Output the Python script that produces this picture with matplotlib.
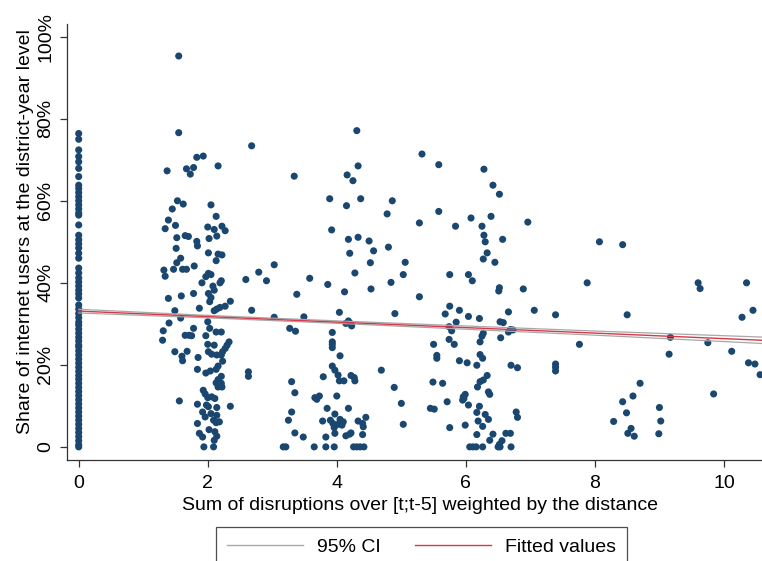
import matplotlib
matplotlib.use('Agg')
import matplotlib.pyplot as plt
from matplotlib.lines import Line2D

# share of internet users (%) for districts with zero disruptions
zero_y = [76.4, 75.0, 72.4, 70.8, 69.5, 67.9, 65.9, 63.8, 63.0, 62.0, 61.0, 60.0, 59.0,
          58.0, 57.0, 56.5, 54.1, 51.6, 50.5, 49.5, 48.5, 47.2, 46.0, 43.6, 42.4, 41.2,
          40.2, 39.2, 38.2, 37.3, 36.3, 34.6, 33.6, 32.5, 31.5, 30.4, 29.7, 28.7, 27.7,
          26.7, 25.8, 24.8, 24.4, 23.4, 22.4, 21.4, 20.4, 19.4, 18.4, 17.4, 16.5, 15.5,
          14.5, 13.5, 12.5, 11.5, 10.5, 9.5, 8.5, 7.5, 6.5, 5.5, 4.5, 3.5, 2.5, 1.5, 0.5, 0.0]

c2_x = [1.55, 1.55, 2.68, 1.83, 1.93, 1.37, 1.67, 1.78, 1.73, 2.16, 3.34, 1.53, 1.62, 1.45,
        2.05, 2.13, 1.39, 1.50, 1.34, 2.00, 2.10, 2.22, 2.27, 2.14, 2.02, 1.52, 1.65, 1.70,
        1.83, 1.84, 1.51, 2.01, 2.16, 2.22, 2.13, 1.58, 1.52, 1.32, 1.34, 1.47, 1.61, 1.67,
        1.79, 2.01, 2.05, 1.97, 1.91, 2.08, 2.21, 2.19, 2.59, 2.79, 2.91, 3.03, 3.38, 2.10,
        2.01, 2.05, 2.03, 1.78, 1.59, 1.39, 2.35, 2.27, 2.19, 2.14, 2.10, 1.87, 1.49, 2.68,
        3.03, 1.58, 1.40, 2.00, 2.03, 1.31, 1.30, 1.78, 1.65, 1.71, 1.75, 1.97, 2.13, 2.21,
        3.27, 3.36, 2.00, 2.10, 2.33, 2.30, 2.27, 2.23, 2.01, 2.06, 2.14, 2.21, 1.49, 1.60,
        1.61, 1.68, 1.85, 2.23, 2.16, 2.13, 1.84, 1.97, 2.04, 2.63, 2.63, 2.21, 2.16, 2.13,
        2.21, 2.16, 2.22, 3.30, 3.35, 1.93, 1.96, 2.00, 2.06, 2.11, 1.56, 1.84, 1.98, 2.01,
        2.14, 2.35, 1.92, 1.96, 2.05, 2.14, 2.09, 2.13, 2.18, 3.30, 3.25, 3.35, 1.84, 2.02,
        1.87, 1.92, 2.11, 2.14, 2.10, 1.94, 2.09, 3.17, 3.21]
c2_y = [95.3, 76.6, 73.4, 70.6, 70.9, 67.3, 67.8, 68.1, 66.5, 68.5, 66.0, 60.0, 59.2, 58.0,
        59.0, 56.2, 55.3, 54.0, 53.2, 53.6, 53.0, 53.8, 52.7, 51.4, 50.8, 51.0, 51.5, 51.3,
        50.1, 49.0, 48.4, 47.3, 47.0, 46.8, 45.4, 46.0, 44.9, 43.1, 41.6, 43.3, 43.3, 43.3,
        44.1, 42.3, 42.0, 41.5, 40.0, 39.2, 40.5, 40.0, 40.8, 42.6, 40.5, 44.4, 37.2, 38.2,
        37.4, 36.4, 35.4, 37.4, 36.8, 36.2, 35.5, 34.3, 34.0, 33.6, 33.2, 33.8, 33.2, 33.3,
        31.6, 31.4, 30.2, 30.5, 28.9, 28.3, 26.0, 28.9, 27.2, 27.2, 27.1, 27.1, 28.0, 28.0,
        28.9, 28.2, 25.0, 24.8, 25.6, 24.8, 24.0, 23.2, 23.2, 22.6, 22.4, 22.4, 23.2, 22.1,
        21.0, 23.3, 21.8, 20.9, 19.7, 18.9, 18.9, 18.0, 18.5, 18.3, 17.2, 17.2, 16.4, 15.6,
        15.5, 14.6, 14.6, 15.9, 13.2, 13.8, 12.9, 12.0, 12.2, 11.8, 11.2, 10.4, 10.2, 9.8,
        9.6, 9.9, 8.5, 7.3, 8.1, 7.7, 6.5, 5.9, 6.1, 8.5, 6.5, 3.4, 5.7, 4.2,
        3.3, 2.4, 3.7, 2.6, 1.6, 0.0, 0.0, 0.0, 0.0]

c4_x = [4.31, 5.32, 5.58, 4.33, 4.16, 4.25, 3.89, 4.15, 4.37, 4.86, 4.78, 5.58, 5.28, 3.92,
        4.18, 4.33, 4.50, 4.20, 4.57, 4.80, 4.52, 5.06, 4.28, 5.03, 3.58, 3.86, 4.12, 4.84,
        4.53, 5.28, 5.75, 5.75, 5.68, 3.49, 4.04, 4.90, 4.18, 4.21, 4.23, 4.14, 5.74, 5.74,
        3.93, 3.93, 3.93, 3.93, 5.50, 5.55, 5.55, 4.05, 3.93, 3.97, 4.02, 4.04, 4.11, 4.22,
        4.27, 4.28, 3.79, 4.69, 5.49, 5.64, 4.89, 4.00, 3.66, 3.73, 3.69, 5.71, 5.00, 3.85,
        3.97, 4.18, 5.45, 5.51, 3.78, 3.90, 3.94, 4.05, 4.10, 4.02, 4.08, 4.45, 4.33, 4.40,
        4.41, 3.96, 5.03, 5.75, 3.48, 3.83, 3.97, 4.14, 4.20, 4.22, 4.40, 3.65, 3.83, 3.96,
        4.26, 4.31, 4.36, 4.42]
c4_y = [77.1, 71.4, 68.8, 68.5, 66.3, 64.9, 60.5, 58.8, 60.5, 60.0, 56.8, 57.4, 54.6, 52.9,
        50.6, 51.1, 50.2, 47.2, 47.8, 48.7, 44.9, 45.0, 42.4, 42.0, 41.1, 39.6, 37.8, 40.1,
        38.5, 36.6, 42.0, 34.3, 32.4, 31.7, 32.8, 32.5, 30.7, 30.1, 29.5, 30.1, 29.3, 26.2,
        27.9, 25.6, 25.0, 24.2, 25.0, 22.3, 21.6, 22.2, 19.7, 18.7, 17.5, 16.1, 16.1, 17.4,
        16.9, 16.1, 17.1, 18.7, 15.8, 15.5, 14.5, 12.4, 12.0, 12.4, 11.6, 11.0, 10.6, 9.4,
        8.0, 9.4, 9.4, 9.2, 6.3, 6.5, 5.7, 6.7, 6.1, 5.5, 5.3, 7.2, 6.3, 5.7,
        4.9, 4.7, 5.5, 4.7, 2.4, 2.4, 3.3, 2.7, 3.1, 3.4, 3.0, 0.0, 0.0, 0.0,
        0.0, 0.0, 0.0, 0.0]

c6_x = [6.28, 6.42, 6.52, 6.39, 6.08, 6.96, 5.84, 6.25, 6.28, 6.30, 6.57, 6.33, 6.27, 6.45,
        6.04, 6.10, 6.52, 6.51, 6.89, 5.90, 5.85, 6.04, 6.21, 5.78, 6.66, 7.06, 7.39, 6.53,
        6.58, 6.69, 6.66, 6.73, 6.27, 6.25, 6.22, 6.54, 5.82, 7.76, 6.22, 6.26, 6.17, 5.90,
        6.02, 6.70, 6.80, 7.39, 7.39, 7.39, 6.33, 6.27, 6.22, 6.18, 6.35, 6.37, 5.99, 5.96,
        5.95, 5.97, 6.04, 6.21, 6.17, 6.30, 6.35, 6.26, 6.78, 6.80, 5.99, 6.19, 6.17, 6.42,
        6.62, 6.69, 6.37, 6.56, 6.52, 6.06, 6.11, 6.16, 6.26, 6.50, 6.53, 6.70]
c6_y = [67.7, 63.8, 61.6, 56.2, 55.8, 54.8, 53.8, 53.8, 51.6, 50.0, 50.6, 47.3, 45.8, 45.0,
        42.0, 40.5, 38.8, 38.0, 38.5, 33.3, 30.4, 31.8, 31.3, 28.3, 32.9, 33.3, 32.2, 30.5,
        30.3, 28.6, 28.0, 28.5, 27.7, 27.0, 25.6, 26.6, 25.0, 25.0, 22.5, 21.6, 19.9, 21.0,
        20.5, 19.9, 19.3, 20.2, 19.4, 18.5, 17.4, 16.3, 15.9, 14.6, 13.4, 12.8, 12.8, 12.2,
        11.4, 11.8, 10.2, 9.9, 8.4, 7.9, 6.7, 5.0, 8.5, 7.2, 5.3, 6.3, 3.0, 3.1,
        3.3, 3.3, 1.6, 1.5, 0.6, 0.0, 0.0, 0.0, 0.0, 0.0, 0.0, 0.0]

far_x = [8.07, 7.88, 8.43, 9.60, 9.63, 10.35, 10.45, 10.28, 8.50, 9.17, 9.75, 9.15, 10.12,
         10.38, 10.48, 10.56, 8.70, 8.59, 8.43, 8.49, 9.84, 8.29, 8.56, 8.51, 8.61, 9.00,
         9.02, 8.99]
far_y = [50.0, 40.0, 49.3, 40.0, 38.6, 40.0, 33.3, 31.6, 32.2, 26.7, 25.4, 22.6, 23.3,
         20.5, 20.2, 17.6, 15.5, 12.4, 11.0, 8.3, 12.9, 6.2, 4.5, 3.3, 2.6, 9.6,
         6.3, 3.2]

# linear fit and 95% CI
fit_x = [0, 2, 4, 6, 8, 10.8]
fit_y = [33.1, 31.76, 30.42, 29.08, 27.74, 25.85]
ci_hi = [33.55, 32.06, 30.72, 29.48, 28.24, 26.65]
ci_lo = [32.65, 31.46, 30.12, 28.68, 27.24, 25.05]

navy = '#1a476f'
ci_col = '#a8a8a8'
fit_col = '#d4394a'
fs = 14
plt.rcParams['font.family'] = ['Liberation Sans', 'DejaVu Sans']

fig = plt.figure(figsize=(7.62, 5.61), dpi=100)
ax = fig.add_axes([66.7 / 762, 101 / 561, (773 - 66.7) / 762, 436 / 561])

xs = [0] * len(zero_y) + c2_x + c4_x + c6_x + far_x
ys = zero_y + c2_y + c4_y + c6_y + far_y
ax.scatter(xs, ys, s=26, color=navy, edgecolors='none', zorder=2)

ax.plot(fit_x, ci_hi, color=ci_col, lw=0.9, zorder=3)
ax.plot(fit_x, ci_lo, color=ci_col, lw=0.9, zorder=3)
ax.plot(fit_x, fit_y, color=fit_col, lw=1.0, zorder=4)

ax.set_xlim(-0.186, 10.76)
ax.set_ylim(-3.2, 103.1)
ax.set_xticks([0, 2, 4, 6, 8, 10])
ax.set_yticks([0, 20, 40, 60, 80, 100])
ax.set_yticklabels(['0', '20%', '40%', '60%', '80%', '100%'], rotation=90, va='center')
ax.tick_params(labelsize=fs, length=5, width=0.9, color='#333333')
ax.tick_params(axis='x', pad=5.5)
ax.tick_params(axis='y', pad=4)
for side in ['top', 'right']:
    ax.spines[side].set_visible(False)
for side in ['left', 'bottom']:
    ax.spines[side].set_linewidth(0.9)
    ax.spines[side].set_color('#333333')

ax.set_xlabel('Sum of disruptions over [t;t-5] weighted by the distance', fontsize=fs, labelpad=4)
ax.set_ylabel('Share of internet users at the district-year level', fontsize=fs)
ax.yaxis.set_label_coords(-0.047, 0.524)

handles = [Line2D([], [], color=ci_col, lw=1.0), Line2D([], [], color=fit_col, lw=1.0)]
leg = fig.legend(handles, ['95% CI', 'Fitted values'], loc='upper center',
                 bbox_to_anchor=(421.5 / 762, 34 / 561), ncol=2, fontsize=fs,
                 frameon=True, fancybox=False, edgecolor='#222222', borderpad=0.6,
                 borderaxespad=0, handlelength=3.9, handletextpad=0.7, columnspacing=1.8)
leg.get_frame().set_linewidth(0.9)

fig.savefig('out.png', dpi=100)
